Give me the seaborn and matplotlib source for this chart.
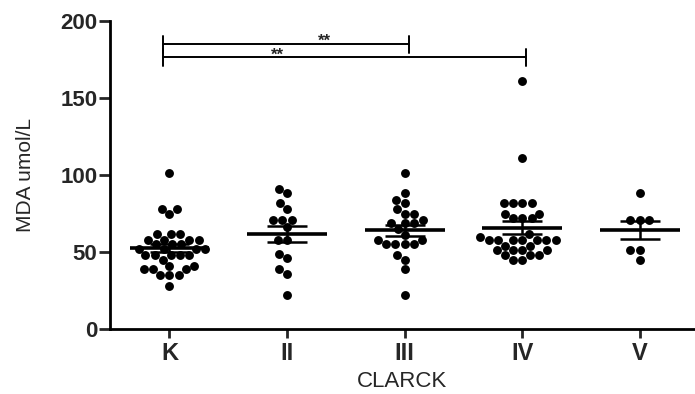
import numpy as np
import pandas as pd
import matplotlib
matplotlib.use("Agg")
import matplotlib.pyplot as plt
import seaborn as sns

groups = ["K", "II", "III", "IV", "V"]
k_vals = [101, 78, 78, 75, 62, 62, 62, 58, 58, 58, 58, 55, 55, 55, 52, 52, 52, 52,
          48, 48, 48, 48, 48, 45, 41, 41, 39, 39, 39, 35, 35, 35, 28]
ii_vals = [91, 88, 82, 78, 71, 71, 71, 66, 58, 58, 49, 46, 39, 36, 22]
iii_vals = [101, 88, 84, 82, 78, 75, 75, 71, 69, 69, 69, 65, 61, 58, 58, 55, 55, 55, 55,
            48, 45, 39, 22]
iv_vals = [161, 111, 82, 82, 82, 82, 75, 75, 72, 72, 72, 62, 60, 58, 58, 58, 58, 58, 58, 58,
           54, 54, 51, 51, 51, 51, 48, 48, 48, 45, 45]
v_vals = [88, 71, 71, 71, 51, 51, 45]
values = {"K": k_vals, "II": ii_vals, "III": iii_vals, "IV": iv_vals, "V": v_vals}

yticks = [0, 50, 100, 150, 200]
sig_pairs = [("K", "III", "**"), ("K", "IV", "**")]

rows = [(g, v) for g in groups for v in values[g]]
df = pd.DataFrame(rows, columns=["group", "MDA"])

sns.set_style("white")
plt.rcParams["font.family"] = ["Liberation Sans", "DejaVu Sans"]

fig, ax = plt.subplots(figsize=(6.95, 3.94), dpi=100)
fig.subplots_adjust(left=110 / 695, right=1.0, bottom=65 / 394, top=373 / 394)

sns.swarmplot(data=df, x="group", y="MDA", order=groups, color="black",
              size=6.4, ax=ax, zorder=2)

for i, g in enumerate(groups):
    v = np.asarray(values[g], dtype=float)
    m = v.mean()
    se = v.std(ddof=1) / np.sqrt(len(v))
    ax.hlines(m, i - 0.34, i + 0.34, color="black", lw=2.6, zorder=4)
    ax.hlines([m - se, m + se], i - 0.17, i + 0.17, color="black", lw=1.8, zorder=4)
    ax.vlines(i, m - se, m + se, color="black", lw=1.8, zorder=4)

# significance brackets
bar_y = [185, 176.4]
star_x = [1.32, 0.92]
for (a, b, lab), y, sx in zip(sig_pairs, bar_y, star_x):
    xa = groups.index(a) - 0.055
    xb = groups.index(b) + 0.035
    ax.plot([xa, xb], [y, y], color="black", lw=1.4, clip_on=False)
    ax.plot([xb, xb], [y - 5.5, y + 5.5], color="black", lw=1.4, clip_on=False)
    ax.plot([xa, xa], [y - 5.5, y + 5.5], color="black", lw=1.4, clip_on=False)
    ax.annotate(lab, xy=(sx, y), xytext=(0, -1.5), textcoords="offset points",
                ha="center", va="baseline", fontsize=12, fontweight="bold")

ax.set_ylim(0, 200)
ax.set_xlim(-0.506, 4.47)
ax.set_yticks(yticks)
ax.set_yticklabels([str(t) for t in yticks], fontsize=16, fontweight="heavy")
ax.set_xticks(range(len(groups)))
ax.set_xticklabels(groups, fontsize=17, fontweight="heavy")
ax.tick_params(axis="y", length=8, width=2, direction="out", pad=1, left=True)
ax.tick_params(axis="x", length=6.5, width=2, direction="out", pad=3, bottom=True)
for s in ["top", "right"]:
    ax.spines[s].set_visible(False)
for s in ["left", "bottom"]:
    ax.spines[s].set_linewidth(2)
    ax.spines[s].set_color("black")

ax.set_ylabel("MDA umol/L", fontsize=15, labelpad=18)
ax.set_xlabel("CLARCK", fontsize=16, labelpad=4)

fig.savefig("out.png", dpi=100)
